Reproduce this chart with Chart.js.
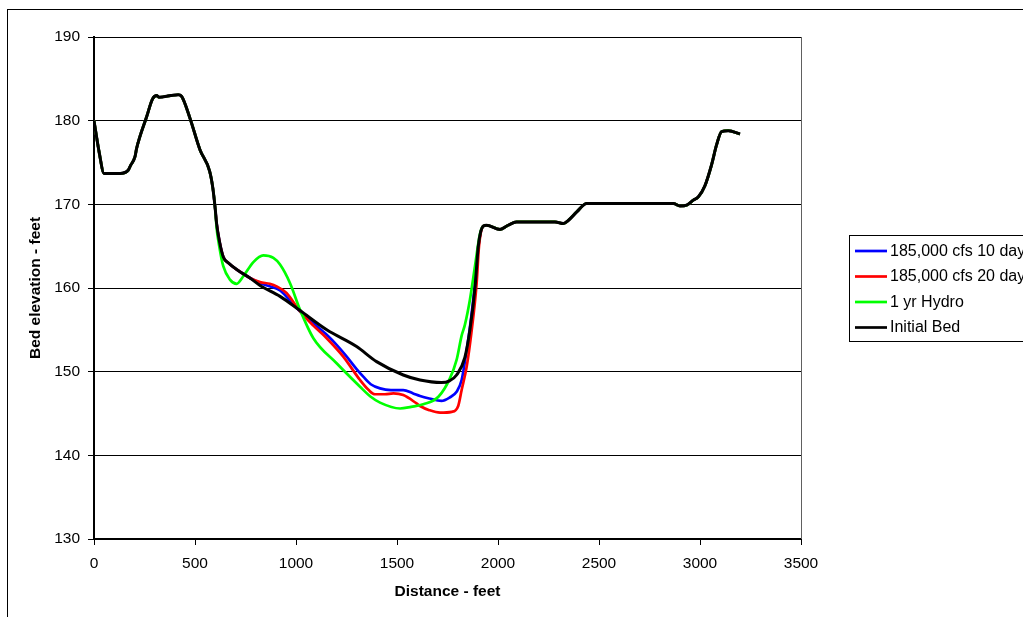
<!DOCTYPE html>
<html>
<head>
<meta charset="utf-8">
<script src="https://cdn.jsdelivr.net/npm/chart.js@4.4.1/dist/chart.umd.min.js"></script>
<style>
  html, body { margin: 0; padding: 0; background: #ffffff; }
  #wrap { width: 1023px; height: 617px; position: relative; }
</style>
</head>
<body>
<div id="wrap"><canvas id="c" width="1023" height="617"></canvas></div>
<script>
// ---------- DATA ----------
const seriesNames = ['185,000 cfs 10 day', '185,000 cfs 20 day', '1 yr Hydro', 'Initial Bed'];
const seriesColors = ['#0000FF', '#FF0000', '#00FF00', '#000000'];

// Initial bed profile (distance ft, elevation ft)
const bedX = [0, 25, 50, 130, 170, 180, 203, 211, 261, 290, 310, 323, 380, 417, 434, 475, 525, 572, 588, 600, 607, 620, 640, 665, 713, 772,
  822, 921, 1020, 1152, 1300, 1399, 1531, 1614, 1720, 1760, 1795, 1836, 1861, 1886, 1902, 1915,
  1927, 1943, 2010, 2050, 2092, 2282, 2324, 2349, 2390, 2439, 2472, 2868, 2901, 2934, 2967, 2992, 3024, 3057, 3082, 3107, 3140, 3198];
const bedY = [180.0, 176.3, 173.7, 173.7, 174.1, 174.6, 175.7, 176.7, 180.5, 182.6, 183.0, 182.8, 183.0, 183.1, 182.9, 180.3, 176.5, 174.0, 172.0, 169.5, 167.7, 165.7, 163.7, 163.0, 162.1, 161.2,
  160.3, 159.0, 157.3, 155.0, 153.0, 151.2, 149.6, 149.0, 148.7, 148.9, 149.6, 151.7, 155.0, 160.0, 164.9, 166.8,
  167.4, 167.5, 167.0, 167.5, 167.9, 167.9, 167.7, 168.1, 169.1, 170.1, 170.1, 170.1, 169.8, 169.9, 170.5, 170.9, 172.2, 174.7, 177.1, 178.7, 178.8, 178.4];

// 185,000 cfs 10 day (portion that departs from the initial bed)
const day10X = [822, 870, 921, 970, 1020, 1086, 1152, 1201, 1251, 1300, 1333, 1370, 1416, 1470, 1531, 1580, 1614, 1660, 1720, 1760, 1795, 1820, 1845, 1861, 1886, 1902];
const day10Y = [160.6, 160.2, 159.7, 158.5, 157.2, 155.8, 154.4, 153.2, 151.8, 150.3, 149.4, 148.5, 148.0, 147.8, 147.8, 147.4, 147.1, 146.8, 146.5, 146.9, 147.6, 149.0, 152.6, 155.3, 160.5, 164.9];

// 185,000 cfs 20 day
const day20X = [822, 870, 904, 953, 1020, 1086, 1152, 1234, 1317, 1360, 1391, 1440, 1482, 1531, 1597, 1614, 1660, 1713, 1771, 1803, 1820, 1845, 1870, 1894, 1906];
const day20Y = [160.7, 160.5, 160.2, 159.4, 157.2, 155.5, 154.0, 151.8, 149.0, 147.8, 147.3, 147.3, 147.4, 147.2, 146.2, 145.9, 145.4, 145.1, 145.2, 145.9, 147.8, 150.6, 155.0, 160.5, 165.0];

// 1 yr Hydro
const hydroX = [607, 620, 640, 673, 706, 739, 789, 838, 888, 921, 970, 1020, 1086, 1201, 1317, 1370, 1416, 1515, 1570, 1630, 1705, 1762, 1795, 1820, 1836, 1861, 1886, 1911];
const hydroY = [167.2, 165.0, 162.6, 161.0, 160.5, 161.4, 163.1, 163.9, 163.6, 162.8, 160.6, 157.4, 154.0, 151.0, 148.2, 147.0, 146.3, 145.6, 145.8, 146.1, 147.0, 149.2, 151.4, 154.3, 155.6, 158.6, 162.6, 166.5];

// Axis ticks
const xTicks = [0, 500, 1000, 1500, 2000, 2500, 3000, 3500];
const yTicks = [130, 140, 150, 160, 170, 180, 190];

// ---------- BUILD ----------
function pts(xs, ys) { return xs.map((x, i) => ({ x: x, y: ys[i] })); }
const bedPts = pts(bedX, bedY);
function withBed(xs, ys, leftUpTo, rightFrom) {
  const left = bedPts.filter(p => p.x <= leftUpTo);
  const right = bedPts.filter(p => p.x >= rightFrom);
  return left.concat(pts(xs, ys), right);
}

const FONT = "'Liberation Sans', Arial, sans-serif";

const datasets = [
  { label: seriesNames[0], data: withBed(day10X, day10Y, 772, 1927), borderColor: seriesColors[0], borderWidth: 2.7, order: 4 },
  { label: seriesNames[1], data: withBed(day20X, day20Y, 772, 1927), borderColor: seriesColors[1], borderWidth: 2.7, order: 3 },
  { label: seriesNames[2], data: withBed(hydroX, hydroY, 600, 1927), borderColor: seriesColors[2], borderWidth: 2.7, order: 2 },
  { label: seriesNames[3], data: bedPts, borderColor: seriesColors[3], borderWidth: 3, order: 1 }
].map(d => Object.assign(d, { pointRadius: 0, pointHoverRadius: 0, fill: false, cubicInterpolationMode: 'monotone', backgroundColor: d.borderColor }));

const framePlugin = {
  id: 'frame',
  beforeDraw(chart) {
    const ctx = chart.ctx;
    ctx.save();
    ctx.fillStyle = '#ffffff';
    ctx.fillRect(0, 0, chart.width, chart.height);
    ctx.strokeStyle = '#000000';
    ctx.lineWidth = 1;
    ctx.strokeRect(7.5, 9.5, 1200, 800);
    ctx.restore();
  },
  afterDraw(chart) {
    const ctx = chart.ctx;
    const a = chart.chartArea;
    ctx.save();
    // plot area right border
    ctx.strokeStyle = '#606060';
    ctx.lineWidth = 1;
    ctx.beginPath();
    ctx.moveTo(Math.round(a.right) + 0.5, a.top);
    ctx.lineTo(Math.round(a.right) + 0.5, a.bottom);
    ctx.stroke();
    // legend box
    const lx = 849.5, ly = 235.5;
    ctx.fillStyle = '#ffffff';
    ctx.fillRect(lx, ly, 300, 106);
    ctx.strokeStyle = '#000000';
    ctx.strokeRect(lx, ly, 300, 106);
    ctx.font = '16px ' + FONT;
    ctx.textBaseline = 'middle';
    ctx.textAlign = 'left';
    chart.data.datasets.forEach((ds, i) => {
      const y = 251 + i * 25.5;
      ctx.strokeStyle = ds.borderColor;
      ctx.lineWidth = 2.7;
      ctx.beginPath();
      ctx.moveTo(855, y);
      ctx.lineTo(887, y);
      ctx.stroke();
      ctx.fillStyle = '#000000';
      ctx.fillText(ds.label, 890, y + 0.5);
    });
    ctx.restore();
  }
};

new Chart(document.getElementById('c'), {
  type: 'line',
  data: { datasets: datasets },
  plugins: [framePlugin],
  options: {
    responsive: false,
    animation: false,
    devicePixelRatio: 1,
    layout: { padding: { left: 0, top: 37, right: 222, bottom: 0 } },
    plugins: { legend: { display: false }, tooltip: { enabled: false } },
    scales: {
      x: {
        type: 'linear',
        min: 0, max: 3500,
        afterFit: s => { s.height = 78; },
        afterBuildTicks: s => { s.ticks = xTicks.map(v => ({ value: v })); },
        ticks: { color: '#000', font: { family: FONT, size: 15.5 }, padding: 9, maxRotation: 0, callback: v => String(v) },
        grid: { drawOnChartArea: false, drawTicks: true, tickLength: 6, color: '#000' },
        border: { display: true, color: '#000', width: 2 },
        title: { display: true, text: 'Distance - feet', color: '#000', font: { family: FONT, size: 15.5, weight: 'bold' }, padding: { top: 0, bottom: 16 } }
      },
      y: {
        type: 'linear',
        min: 130, max: 190,
        afterFit: s => { s.width = 94; },
        afterBuildTicks: s => { s.ticks = yTicks.map(v => ({ value: v })); },
        ticks: { color: '#000', font: { family: FONT, size: 15.5 }, padding: 8, callback: v => String(v) },
        grid: { drawOnChartArea: true, drawTicks: true, tickLength: 6, color: '#000', lineWidth: 1 },
        border: { display: true, color: '#000', width: 2 },
        title: { display: true, text: 'Bed elevation - feet', color: '#000', font: { family: FONT, size: 15.5, weight: 'bold' }, padding: { top: 26, bottom: 0 } }
      }
    }
  }
});
</script>
</body>
</html>
